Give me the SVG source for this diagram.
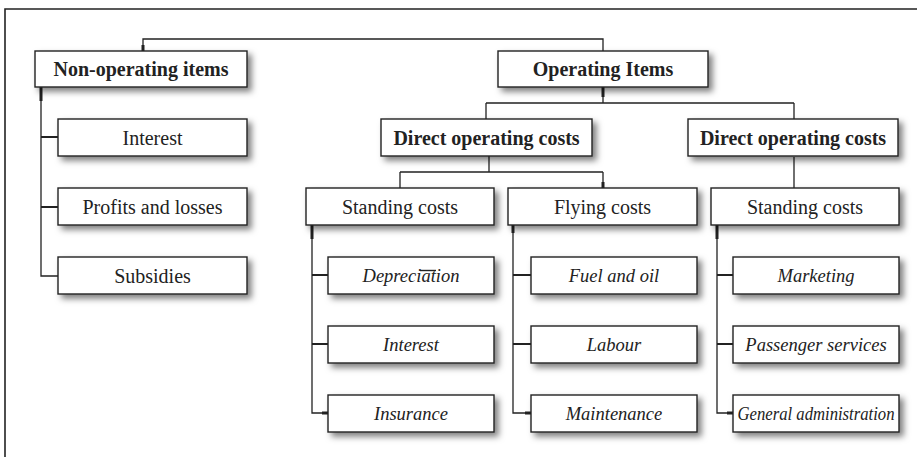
<svg xmlns="http://www.w3.org/2000/svg" width="917" height="457" viewBox="0 0 917 457">
<defs>
<filter id="sh" x="-10%" y="-30%" width="125%" height="180%">
<feDropShadow dx="4" dy="4" stdDeviation="3" flood-color="#000" flood-opacity="0.5"/>
</filter>
<style>
.box{fill:#fff;stroke:#222;stroke-width:1.4;filter:url(#sh)}
.t{font-family:"Liberation Serif",serif;font-size:20px;fill:#222;text-anchor:middle}
.b{font-weight:bold}
.i{font-style:italic;font-size:18.5px}
.c{fill:none;stroke:#222;stroke-width:1.3}
.br{fill:none;stroke:#222;stroke-width:2}
.s{fill:none;stroke:#222;stroke-width:3}
</style>
</defs>
<rect width="917" height="457" fill="#fff"/>
<g id="frame"><path d="M5,457 V9 H917" fill="none" stroke="#222" stroke-width="1.6"/></g>
<g id="connectors">
<path class="c" d="M143,51 V39 H603 V51"/>
<path class="c" d="M41,87 V276 H58"/>
<path class="br" d="M41,137 H58 M41,207 H58"/>
<path class="c" d="M603,87 V103 M486,103 H794 M486,103 V119 M794,103 V119"/>
<path class="c" d="M489,156 V172 M400,172 H603 M400,172 V188 M603,172 V188"/>
<path class="c" d="M794,157 V188"/>
<path class="c" d="M312,225 V413 H328 M513,225 V413 H531 M717,225 V413 H733"/>
<path class="br" d="M312,275 H328 M312,344 H328 M513,275 H531 M513,344 H531 M717,275 H733 M717,344 H733"/>
<path class="s" d="M143,45 V51 M41,87 V101 M603,87 V97 M603,182 V188 M312,225 V239 M513,225 V233 M717,225 V239 M322,413 H328 M525,413 H531 M727,413 H733"/>
</g>
<g id="non-operating"><rect class="box" x="35" y="51" width="212" height="36"/><text class="t b" x="141" y="76">Non-operating items</text></g>
<g id="n-interest"><rect class="box" x="58" y="119" width="189" height="37"/><text class="t" x="152.5" y="144.5">Interest</text></g>
<g id="n-profits"><rect class="box" x="58" y="188" width="189" height="37"/><text class="t" x="152.5" y="213.5">Profits and losses</text></g>
<g id="n-subsidies"><rect class="box" x="58" y="257" width="189" height="37"/><text class="t" x="152.5" y="282.5">Subsidies</text></g>
<g id="operating"><rect class="box" x="498" y="51" width="210" height="36"/><text class="t b" x="603" y="76">Operating Items</text></g>
<g id="doc-left"><rect class="box" x="381" y="119" width="211" height="37"/><text class="t b" x="486.5" y="144.5">Direct operating costs</text></g>
<g id="doc-right"><rect class="box" x="688" y="119" width="210" height="37"/><text class="t b" x="793" y="144.5">Direct operating costs</text></g>
<g id="standing-left"><rect class="box" x="306" y="188" width="188" height="37"/><text class="t" x="400" y="213.5">Standing costs</text></g>
<g id="flying"><rect class="box" x="508" y="188" width="189" height="37"/><text class="t" x="602.5" y="213.5">Flying costs</text></g>
<g id="standing-right"><rect class="box" x="711" y="188" width="188" height="37"/><text class="t" x="805" y="213.5">Standing costs</text></g>
<g id="depreciation"><rect class="box" x="328" y="257" width="166" height="37"/><text class="t i" x="411" y="282">Depreciation</text><path d="M420,270.5 H436" stroke="#222" stroke-width="1.4"/></g>
<g id="s-interest"><rect class="box" x="328" y="326" width="166" height="37"/><text class="t i" x="411" y="351">Interest</text></g>
<g id="insurance"><rect class="box" x="328" y="395" width="166" height="37"/><text class="t i" x="411" y="420">Insurance</text></g>
<g id="fuel"><rect class="box" x="531" y="257" width="166" height="37"/><text class="t i" x="614" y="282">Fuel and oil</text></g>
<g id="labour"><rect class="box" x="531" y="326" width="166" height="37"/><text class="t i" x="614" y="351">Labour</text></g>
<g id="maintenance"><rect class="box" x="531" y="395" width="166" height="37"/><text class="t i" x="614" y="420">Maintenance</text></g>
<g id="marketing"><rect class="box" x="733" y="257" width="166" height="37"/><text class="t i" x="816" y="282">Marketing</text></g>
<g id="passenger"><rect class="box" x="733" y="326" width="166" height="37"/><text class="t i" x="816" y="351">Passenger services</text></g>
<g id="general"><rect class="box" x="733" y="395" width="166" height="37"/><text class="t i" x="816" y="420" textLength="157" lengthAdjust="spacingAndGlyphs">General administration</text></g>
</svg>
